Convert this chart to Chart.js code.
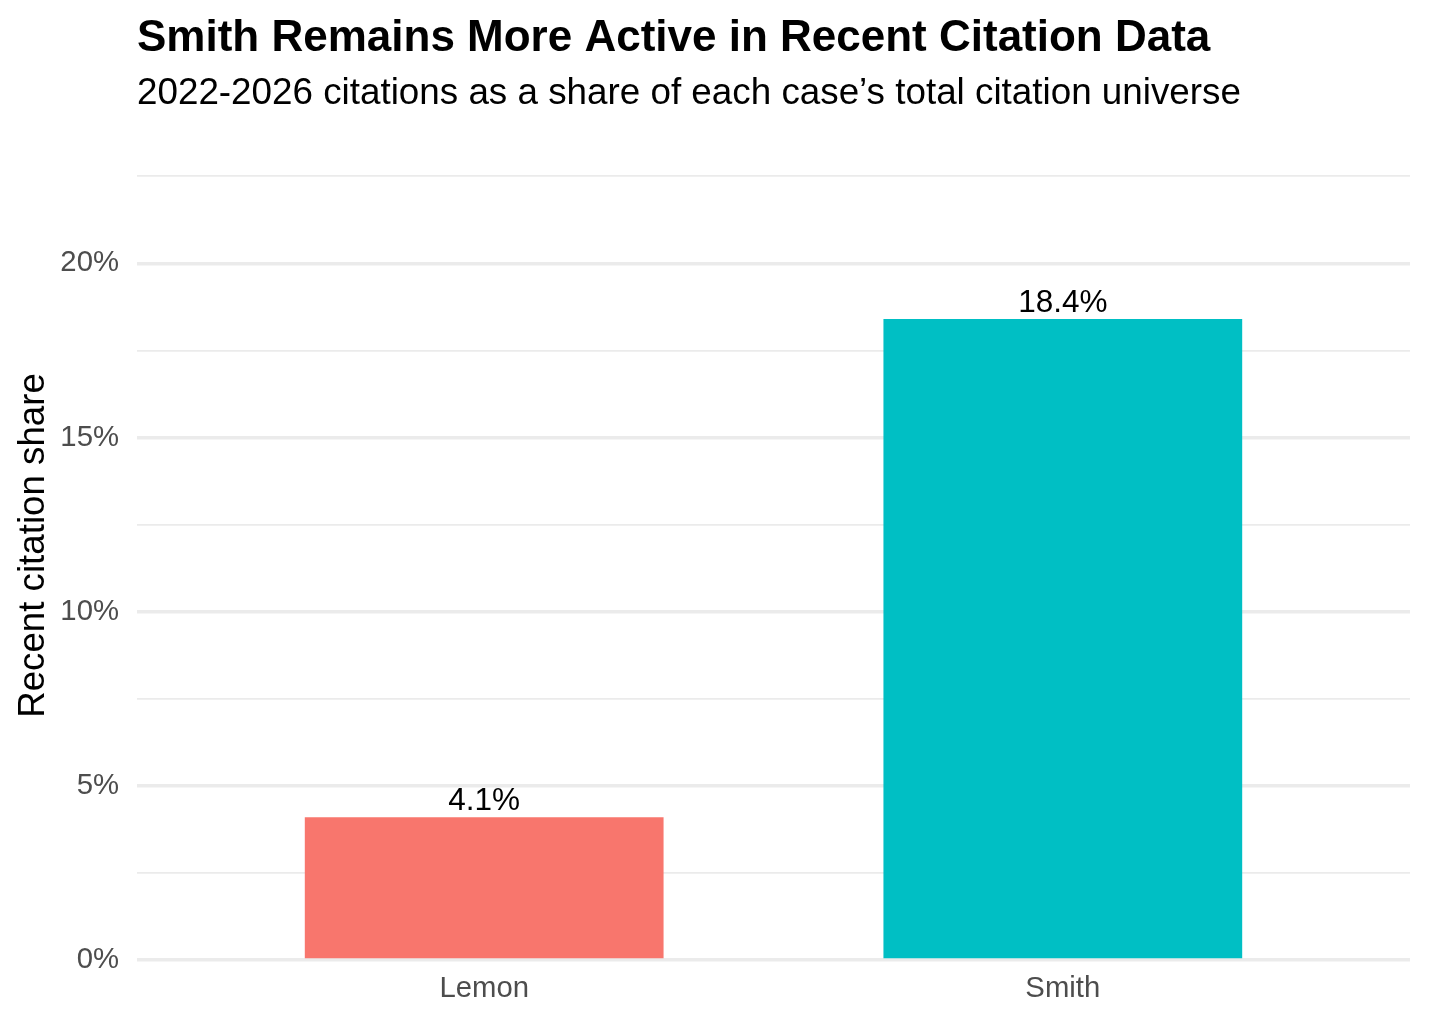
<!DOCTYPE html>
<html>
<head>
<meta charset="utf-8">
<title>Recent citation share</title>
<script src="https://cdn.jsdelivr.net/npm/chart.js@4.4.1/dist/chart.umd.min.js"></script>
<style>
  html, body { margin: 0; padding: 0; background: #ffffff; }
  #wrap { width: 1430px; height: 1026px; }
</style>
</head>
<body>
<div id="wrap"><canvas id="shareChart" width="1430" height="1026"></canvas></div>
<script>
// ==========================================
// Data
// ==========================================
const categories = ['Lemon', 'Smith'];
const shares = [4.1, 18.4];            // percent of total citations, 2022-2026
const barColors = ['#F8766D', '#00BFC4'];
const yMajorTicks = [0, 5, 10, 15, 20];

const titleText = 'Smith Remains More Active in Recent Citation Data';
const subtitleText = '2022-2026 citations as a share of each case\u2019s total citation universe';
const yTitleText = 'Recent citation share';

const FONT = "'Liberation Sans', Arial, Helvetica, sans-serif";

// ==========================================
// Plugins
// ==========================================

// Title + subtitle, left aligned to the panel like ggplot
const headerPlugin = {
    id: 'header',
    afterDraw: function(chart) {
        const ctx = chart.ctx;
        const left = chart.chartArea.left;
        ctx.save();
        ctx.textAlign = 'left';
        ctx.textBaseline = 'alphabetic';
        ctx.fillStyle = '#000000';
        ctx.font = `bold 44px ${FONT}`;
        ctx.fillText(titleText, left, 51);
        ctx.font = `36.8px ${FONT}`;
        ctx.fillText(subtitleText, left, 104);
        ctx.restore();
    }
};

// Value labels above each bar
const valueLabelPlugin = {
    id: 'valueLabels',
    afterDatasetsDraw: function(chart) {
        const ctx = chart.ctx;
        const meta = chart.getDatasetMeta(0);
        ctx.save();
        ctx.textAlign = 'center';
        ctx.textBaseline = 'alphabetic';
        ctx.fillStyle = '#000000';
        ctx.font = `31.5px ${FONT}`;
        meta.data.forEach((bar, i) => {
            ctx.fillText(shares[i].toFixed(1) + '%', bar.x, bar.y - 7);
        });
        ctx.restore();
    }
};

// ==========================================
// Chart
// ==========================================
const ctx = document.getElementById('shareChart');

new Chart(ctx, {
    type: 'bar',
    data: {
        datasets: [{
            data: categories.map((c, i) => ({ x: i + 1, y: shares[i] })),
            backgroundColor: barColors,
            borderWidth: 0,
            barPercentage: 0.62,
            categoryPercentage: 1.0
        }]
    },
    options: {
        responsive: false,
        animation: false,
        devicePixelRatio: 1,
        layout: {
            padding: { top: 131, right: 20, bottom: 0, left: 0 }
        },
        plugins: {
            legend: { display: false },
            tooltip: { enabled: false },
            title: { display: false }
        },
        scales: {
            x: {
                type: 'linear',
                min: 0.4,
                max: 2.6,
                offset: false,
                grid: { display: false, drawTicks: false },
                border: { display: false },
                afterBuildTicks: function(scale) {
                    scale.ticks = categories.map((c, i) => ({ value: i + 1 }));
                },
                afterFit: function(scale) {
                    scale.height = 66;
                },
                ticks: {
                    autoSkip: false,
                    maxRotation: 0,
                    padding: 11,
                    color: '#4D4D4D',
                    font: { family: FONT, size: 29.3 },
                    callback: function(value) {
                        return categories[Math.round(value) - 1];
                    }
                }
            },
            y: {
                type: 'linear',
                min: 0,
                max: 23.8,
                afterFit: function(scale) {
                    scale.width = 137;
                },
                grid: {
                    drawTicks: false,
                    color: '#EBEBEB',
                    lineWidth: function(c) {
                        return yMajorTicks.includes(c.tick.value) ? 3.4 : 1.7;
                    }
                },
                border: { display: false },
                ticks: {
                    stepSize: 2.5,
                    includeBounds: false,
                    padding: 18,
                    color: '#4D4D4D',
                    font: { family: FONT, size: 29.3 },
                    callback: function(value) {
                        return yMajorTicks.includes(value) ? value + '%' : '';
                    }
                },
                title: {
                    display: true,
                    text: yTitleText,
                    color: '#000000',
                    font: { family: FONT, size: 36.7 },
                    padding: { top: 12, bottom: 0 }
                }
            }
        }
    },
    plugins: [headerPlugin, valueLabelPlugin]
});
</script>
</body>
</html>
